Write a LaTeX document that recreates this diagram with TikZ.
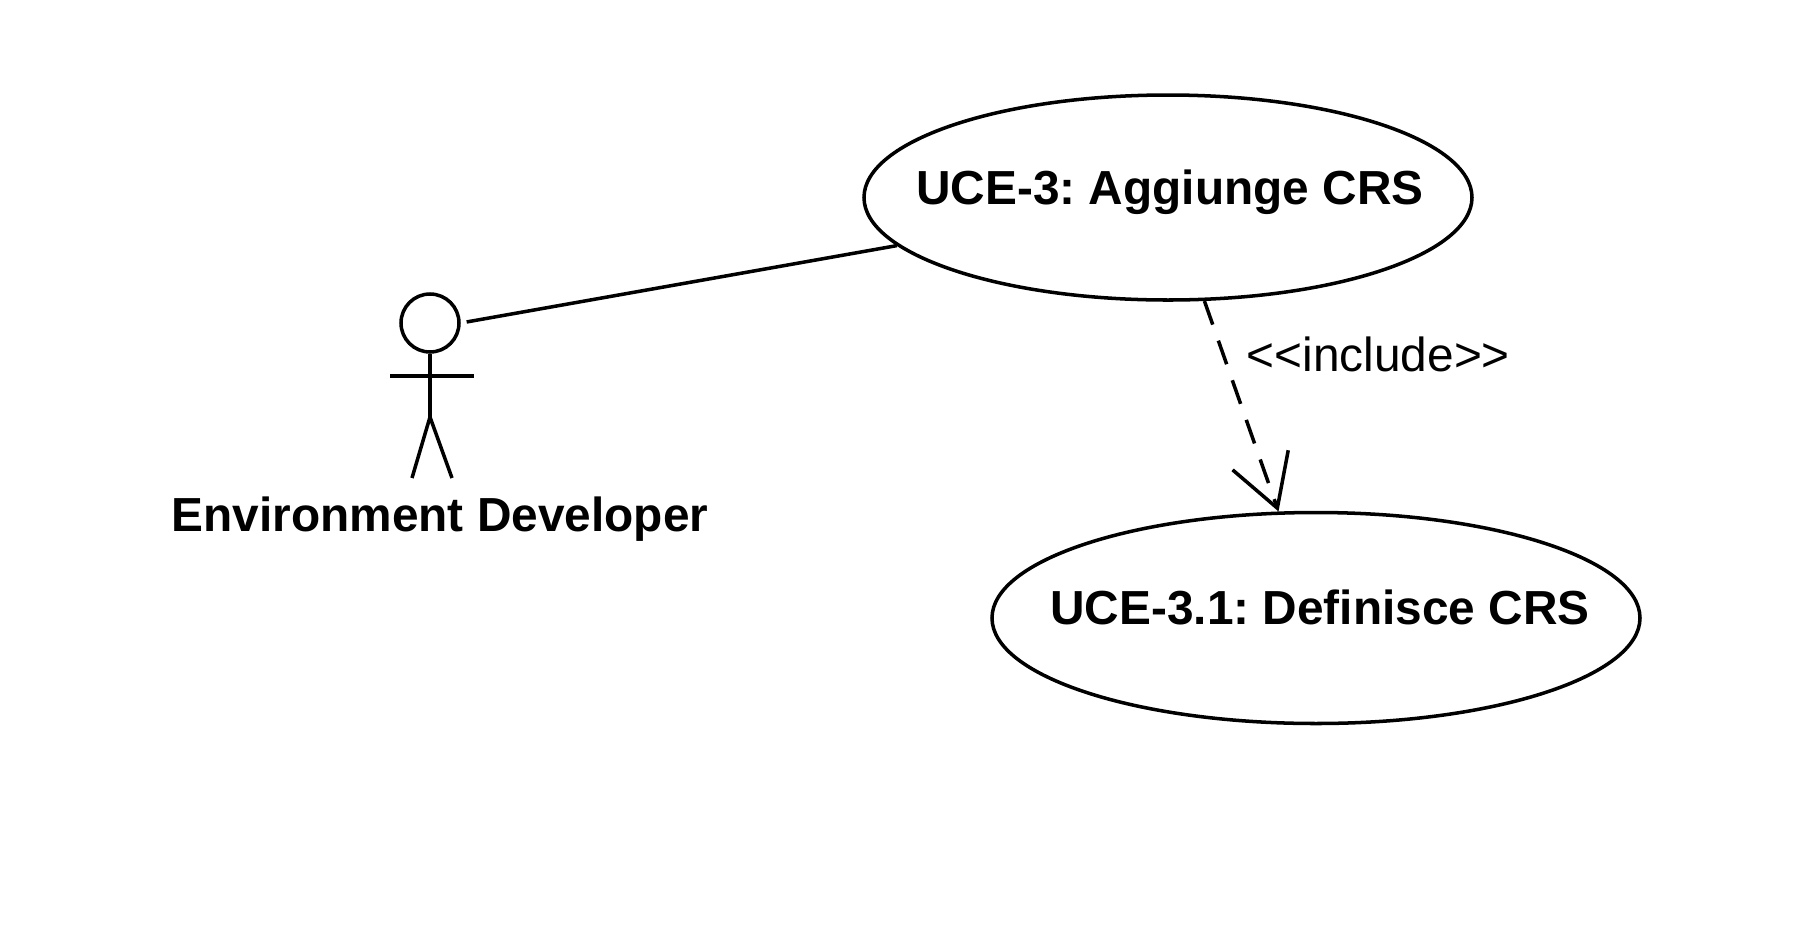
\documentclass[tikz,border=0pt]{standalone}
\usepackage{fontspec}
\setmainfont{Liberation Sans}
\usetikzlibrary{shapes.geometric,arrows.meta}
\frenchspacing

\begin{document}
\begin{tikzpicture}[line width=1pt,
    usecase/.style={draw, ellipse, inner sep=0pt},
    ucname/.style={font=\fontsize{13.6pt}{16pt}\selectfont\bfseries, anchor=base, inner sep=0pt},
    stereo/.style={font=\fontsize{13.6pt}{16pt}\selectfont, anchor=base west, inner sep=0pt},
    include/.style={dash pattern=on 0.25cm off 0.17cm, -{Straight Barb[length=0.51cm, width=0.59cm]}}]
    \useasboundingbox (0,0) rectangle (18,-9.52);
    \node[draw, circle, minimum size=0.58cm, inner sep=0pt] (head) at (4.30,-3.23) {};
    \coordinate (hip) at (4.30,-4.17);
    \draw (head.south) -- (hip);
    \draw (3.90,-3.76) -- (4.74,-3.76);
    \draw (4.12,-4.78) -- (hip) -- (4.52,-4.78);
    \node[ucname] (devname) at (4.40,-5.31) {Environment Developer};
    \node[usecase, minimum width=6.08cm, minimum height=2.05cm] (uc3)  at (11.68,-1.975) {};
    \node[usecase, minimum width=6.48cm, minimum height=2.11cm] (uc31) at (13.16,-6.18) {};
    \node[ucname] (uc3name)  at (11.70,-2.04) {UCE-3: Aggiunge CRS};
    \node[ucname] (uc31name) at (13.20,-6.24) {UCE-3.1: Definisce CRS};
    \draw[shorten <=0.06cm] (head.east) -- (uc3);
    \draw[include] (uc3) -- (uc31);
    \node[stereo] (incl) at (12.45,-3.71) {<\kern0pt<include>\kern0pt>};
\end{tikzpicture}
\end{document}
